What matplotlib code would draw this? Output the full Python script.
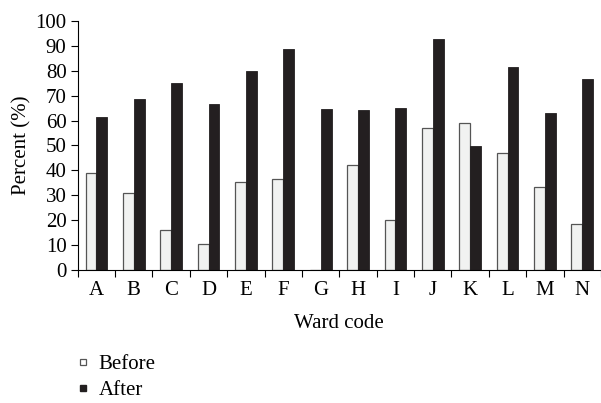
import matplotlib
matplotlib.use('Agg')
import matplotlib.pyplot as plt
import numpy as np
from matplotlib.lines import Line2D

matplotlib.rcParams['font.family'] = 'Liberation Serif'
matplotlib.rcParams.update({'font.size': 15})

wards = ['A', 'B', 'C', 'D', 'E', 'F', 'G', 'H', 'I', 'J', 'K', 'L', 'M', 'N']
before = [38.8, 30.8, 15.9, 10.4, 35.3, 36.7, 0, 42.0, 19.9, 57.1, 58.9, 47.1, 33.2, 18.6]
after = [61.3, 68.6, 75.0, 66.5, 79.9, 88.9, 64.5, 64.1, 64.9, 92.9, 49.9, 81.6, 63.0, 76.8]

BEFORE_COLOR = '#f1f2f1'
AFTER_COLOR = '#231f20'
EDGE = '#555555'

fig = plt.figure(figsize=(6.01, 4.03), dpi=100)
ax = fig.add_axes([0.1293, 0.33, 0.8707, 0.618])

x = np.arange(len(wards)) + 0.5
w = 0.29

ax.bar(x - w / 2, before, width=w, color=BEFORE_COLOR, edgecolor=EDGE, linewidth=0.9, label='Before')
ax.bar(x + w / 2, after, width=w, color=AFTER_COLOR, edgecolor=AFTER_COLOR, linewidth=0.6, label='After')

ax.set_xlim(0, len(wards))
ax.set_ylim(0, 100)
ax.set_yticks(range(0, 101, 10))

# ticks at group boundaries, labels at group centres
ax.set_xticks(np.arange(0, len(wards) + 1))
ax.set_xticklabels([])
ax.set_xticks(x, minor=True)
ax.set_xticklabels(wards, minor=True)
ax.tick_params(axis='x', which='major', length=5, width=0.8, direction='out')
ax.tick_params(axis='x', which='minor', length=0, pad=8)
ax.tick_params(axis='y', length=5, width=0.8, direction='out', pad=3)

for s in ['top', 'right']:
    ax.spines[s].set_visible(False)
ax.spines['left'].set_linewidth(0.8)
ax.spines['bottom'].set_linewidth(0.8)

ax.set_ylabel('Percent (%)', labelpad=3)
ax.set_xlabel('Ward code', labelpad=10)

handles = [
    Line2D([], [], marker='s', linestyle='none', markersize=5, markerfacecolor='white', markeredgecolor=EDGE, markeredgewidth=0.9),
    Line2D([], [], marker='s', linestyle='none', markersize=5, markerfacecolor=AFTER_COLOR, markeredgecolor=AFTER_COLOR),
]
fig.legend(handles, ['Before', 'After'], loc='upper left', bbox_to_anchor=(0.128, 0.12), frameon=False,
           handlelength=0.6, handletextpad=0.45, labelspacing=0.3, borderaxespad=0, borderpad=0, fontsize=15)

plt.savefig('out.png', dpi=100)
